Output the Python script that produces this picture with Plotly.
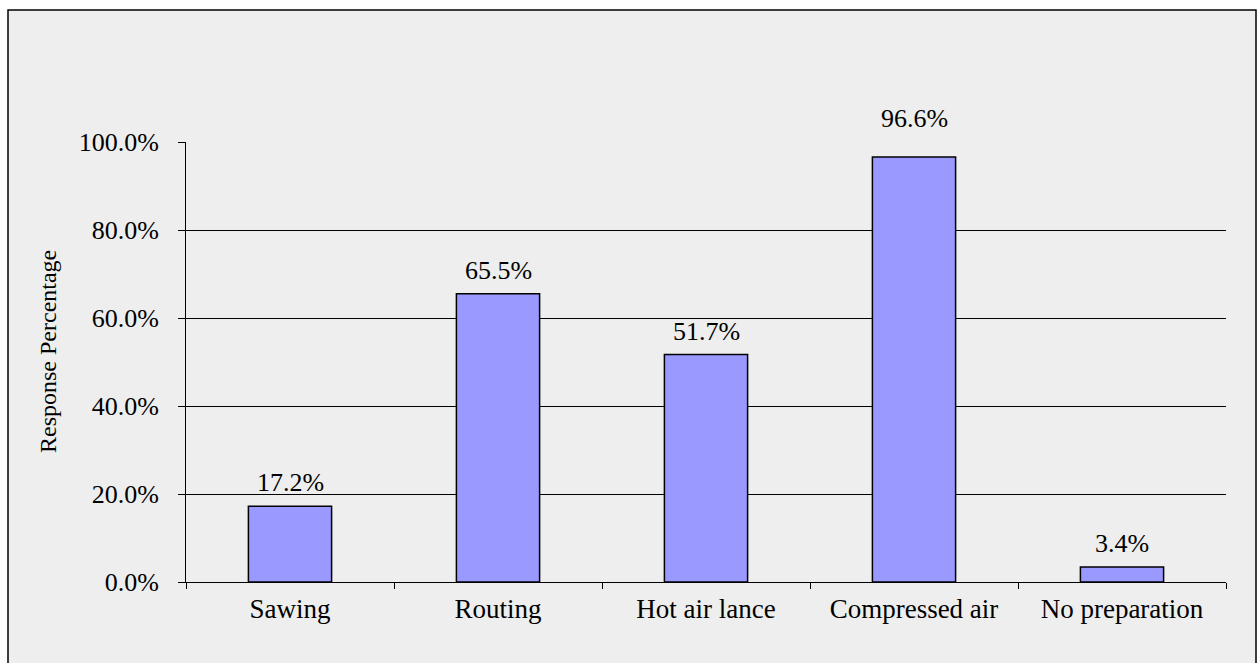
import plotly.graph_objects as go

# Survey responses: joint preparation methods
methods = ["Sawing", "Routing", "Hot air lance", "Compressed air", "No preparation"]
response_pct = [17.2, 65.5, 51.7, 96.6, 3.4]
y_ticks = [0, 20, 40, 60, 80, 100]
y_tick_labels = ["0.0%", "20.0%", "40.0%", "60.0%", "80.0%", "100.0%"]

W, H = 1257, 663
L, R, T, B = 186, 31, 142, 81
pw, ph = W - L - R, H - T - B


def px_x(px):
    return (px - L) / pw


def px_y(py):
    return (H - B - py) / ph


FONT = "Liberation Serif, Times New Roman, serif"
FS = 27

fig = go.Figure(
    go.Bar(
        x=methods,
        y=response_pct,
        width=0.4,
        marker=dict(color="#9999ff", line=dict(color="black", width=1.5)),
        hoverinfo="skip",
    )
)

# value labels above each bar; the tallest one is lifted clear of the top gridline
for m, v in zip(methods, response_pct):
    fig.add_annotation(
        x=m, y=v, text=f"{v:.1f}%", showarrow=False,
        yanchor="bottom", yshift=22 if v > 90 else 7,
        font=dict(family=FONT, size=FS - 1, color="black"),
    )

# y-axis title
fig.add_annotation(
    xref="paper", yref="paper", x=px_x(48), y=px_y(352),
    xanchor="center", yanchor="middle",
    text="Response Percentage", textangle=-90, showarrow=False,
    font=dict(family=FONT, size=24, color="black"),
)

# chart area frame
fig.add_shape(
    type="rect", xref="paper", yref="paper", layer="below",
    x0=px_x(8), x1=px_x(1256), y0=px_y(700), y1=px_y(10),
    line=dict(color="black", width=1.5), fillcolor="#eeeeee",
)

fig.update_layout(
    width=W, height=H,
    margin=dict(l=L, r=R, t=T, b=B, pad=0),
    paper_bgcolor="white",
    plot_bgcolor="rgba(0,0,0,0)",
    showlegend=False,
    bargap=0.6,
    font=dict(family=FONT, size=FS, color="black"),
)

fig.update_xaxes(
    showline=True, linecolor="black", linewidth=1,
    ticks="outside", tickson="boundaries", ticklen=6, tickcolor="black",
    showgrid=False, tickfont=dict(family=FONT, size=FS),
    ticklabelstandoff=3,
)
fig.update_yaxes(
    range=[0, 100], tickvals=y_ticks, ticktext=y_tick_labels,
    showline=True, linecolor="black", linewidth=1,
    ticks="outside", ticklen=7, tickcolor="black",
    showgrid=True, gridcolor="black", gridwidth=1,
    zeroline=False, tickfont=dict(family=FONT, size=FS - 1),
    ticklabelstandoff=14,
)

fig.write_html("out.html")
